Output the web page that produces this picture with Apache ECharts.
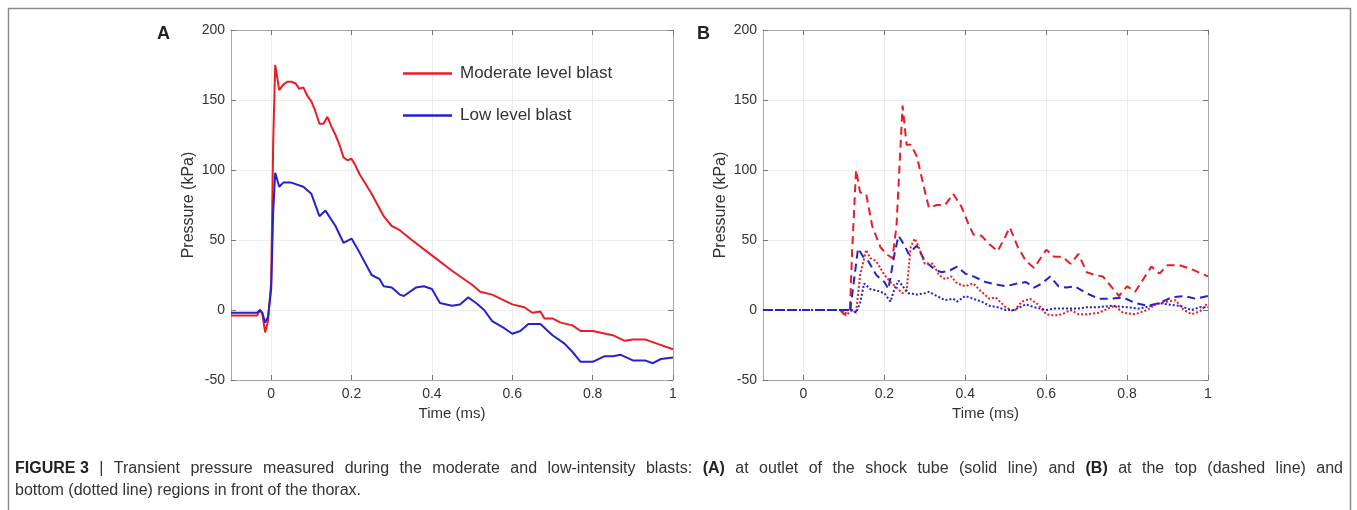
<!DOCTYPE html>
<html><head><meta charset="utf-8">
<script src="https://cdn.jsdelivr.net/npm/echarts@6/dist/echarts.min.js"></script>
<style>html,body{margin:0;padding:0;background:#fff}#c{width:1357px;height:510px}</style>
</head><body><div id="c"></div>
<script>
// ---- tick labels ----
const xTickValues = [0, 0.2, 0.4, 0.6, 0.8, 1];
const yTickValues = [-50, 0, 50, 100, 150, 200];

// ---- Panel A: outlet of shock tube (solid lines) ----
const timeA_mod = [-0.1,-0.06,-0.035,-0.028,-0.022,-0.015,-0.008,0,0.005,0.01,0.02,0.03,0.04,0.05,0.06,0.07,0.08,0.09,0.1,0.11,0.12,0.13,0.14,0.15,0.16,0.17,0.18,0.19,0.2,0.21,0.22,0.25,0.28,0.3,0.32,0.35,0.4,0.45,0.5,0.52,0.55,0.6,0.63,0.65,0.67,0.68,0.7,0.72,0.75,0.77,0.8,0.85,0.88,0.9,0.93,0.96,1.0];
const pressA_mod = [-4,-4,-4,0,-3,-16,-8,20,120,175,157,161,163,163,162,158,159,153,149,142,133,133,138,131,125,118,109,107,108,103,97,83,67,60,57,50,39,28,18,13,11,4,2,-2,-1,-6,-6,-9,-11,-15,-15,-18,-22,-21,-21,-24,-28];

const timeA_low = [-0.1,-0.06,-0.035,-0.028,-0.022,-0.015,-0.008,0,0.005,0.01,0.02,0.03,0.05,0.08,0.1,0.12,0.135,0.16,0.18,0.2,0.22,0.25,0.27,0.28,0.3,0.32,0.33,0.36,0.38,0.4,0.42,0.45,0.47,0.49,0.51,0.53,0.55,0.58,0.6,0.62,0.64,0.67,0.7,0.73,0.75,0.77,0.8,0.83,0.85,0.87,0.9,0.93,0.95,0.97,1.0];
const pressA_low = [-2,-2,-2,0,-2,-9,-5,15,70,98,88,91,91,88,83,67,71,60,48,51,41,25,22,17,16,11,10,16,17,15,5,3,4,9,5,0,-8,-13,-17,-15,-10,-10,-18,-24,-30,-37,-37,-33,-33,-32,-36,-36,-38,-35,-34];

// ---- Panel B: top (dashed) and bottom (dotted) in front of thorax ----
const timeB_modTop = [-0.1,0.09,0.1,0.115,0.12,0.13,0.14,0.155,0.17,0.19,0.205,0.22,0.23,0.245,0.255,0.265,0.28,0.3,0.31,0.33,0.35,0.37,0.39,0.41,0.42,0.44,0.46,0.48,0.5,0.51,0.53,0.55,0.57,0.6,0.62,0.64,0.66,0.68,0.7,0.72,0.74,0.76,0.78,0.8,0.82,0.84,0.86,0.88,0.9,0.93,0.96,1.0];
const pressB_modTop = [0,0,-3,0,40,100,84,83,60,45,40,37,60,146,118,118,110,85,73,75,75,83,74,60,54,53,47,42,53,59,45,35,30,43,38,38,33,40,27,25,24,17,10,17,13,22,31,26,32,32,29,24];

const timeB_lowTop = [-0.1,0.11,0.115,0.12,0.135,0.15,0.16,0.18,0.2,0.21,0.225,0.235,0.25,0.26,0.28,0.3,0.32,0.34,0.36,0.38,0.4,0.42,0.45,0.48,0.5,0.53,0.55,0.57,0.59,0.61,0.63,0.65,0.67,0.7,0.73,0.76,0.79,0.82,0.85,0.88,0.91,0.94,0.97,1.0];
const pressB_lowTop = [0,0,-2,10,44,37,35,25,20,15,40,53,46,40,46,35,30,27,28,31,26,24,20,18,17,19,20,16,19,24,17,16,17,12,8,8,9,5,3,5,9,10,8,10];

const timeB_modBot = [-0.1,0.095,0.105,0.12,0.13,0.14,0.155,0.165,0.18,0.2,0.215,0.23,0.245,0.255,0.265,0.275,0.285,0.3,0.32,0.335,0.35,0.365,0.38,0.4,0.42,0.44,0.46,0.475,0.5,0.52,0.54,0.56,0.58,0.6,0.62,0.64,0.66,0.68,0.7,0.73,0.76,0.77,0.79,0.82,0.85,0.87,0.9,0.92,0.94,0.96,0.98,1.0];
const pressB_modBot = [0,0,-4,0,-2,25,43,37,35,25,20,16,12,14,45,51,45,33,33,25,22,24,19,17,19,13,8,9,2,-1,6,8,4,-3,-4,-3,0,-3,-3,-2,2,3,-2,-3,0,4,6,7,0,-3,-1,5];

const timeB_lowBot = [-0.1,0.12,0.13,0.14,0.15,0.165,0.18,0.2,0.21,0.215,0.225,0.235,0.245,0.26,0.28,0.3,0.31,0.33,0.35,0.37,0.38,0.4,0.42,0.44,0.46,0.48,0.5,0.52,0.55,0.57,0.6,0.62,0.65,0.68,0.7,0.73,0.76,0.8,0.83,0.86,0.88,0.9,0.93,0.96,0.98,1.0];
const pressB_lowBot = [0,0,-2,5,19,15,14,12,8,6,15,21,17,12,11,12,13,10,7,8,6,10,8,6,3,2,0,0,4,2,0,1,1,1,2,2,3,2,1,3,5,4,3,0,2,2];

// ---- caption text ----
const captionLine1 = 'FIGURE 3 | Transient pressure measured during the moderate and low-intensity blasts: (A) at outlet of the shock tube (solid line) and (B) at the top (dashed line) and';
const captionLine2 = 'bottom (dotted line) regions in front of the thorax.';
const captionBold = ['FIGURE\u00a03', '(A)', '(B)'];

const RED = '#ea1c26';
const BLUE = '#2222cf';
const AX = '#a8a8a8';
const FONT = "'Liberation Sans', Arial, sans-serif";
const CAP_SIZE = 16;

function pairs(t, v) { return t.map((x, i) => [x, v[i]]); }

// justified first caption line: measure words, spread the spaces
function justifiedCaption() {
  const words = captionLine1.replace('FIGURE 3', 'FIGURE\u00a03').split(' ');
  const ctx = document.createElement('canvas').getContext('2d');
  let total = 0;
  words.forEach(w => {
    ctx.font = (captionBold.includes(w) ? 'bold ' : '') + CAP_SIZE + 'px ' + FONT;
    total += ctx.measureText(w).width;
  });
  const targetWidth = 1328;
  const gap = (targetWidth - total) / (words.length - 1);
  const parts = words.map(w => captionBold.includes(w) ? '{b|' + w + '}' : '{r|' + w + '}');
  return { text: parts.join('{s| }') + '\n{r|' + captionLine2 + '}', gap };
}
const cap = justifiedCaption();

const grids = [
  { left: 231, top: 30, width: 442, height: 350 },
  { left: 763, top: 30, width: 445, height: 350 }
];

function xAxisFor(gi, pos, labels) {
  return {
    type: 'value', gridIndex: gi, position: pos, min: -0.1, max: 1,
    name: labels ? 'Time (ms)' : '', nameLocation: 'middle', nameGap: 22,
    nameTextStyle: { fontFamily: FONT, fontSize: 15, color: '#333' },
    axisLine: { show: true, onZero: false, lineStyle: { color: AX, width: 1 } },
    axisTick: { show: true, inside: true, length: 5, customValues: xTickValues, lineStyle: { color: '#777' } },
    axisLabel: { show: labels, customValues: xTickValues, margin: 7, fontFamily: FONT, fontSize: 14, color: '#333',
                 formatter: v => String(v) },
    splitLine: { show: labels, lineStyle: { color: '#ececec', width: 1 } }
  };
}
function yAxisFor(gi, pos, labels) {
  return {
    type: 'value', gridIndex: gi, position: pos, min: -50, max: 200, interval: 50,
    name: labels ? 'Pressure (kPa)' : '', nameLocation: 'middle', nameGap: 34,
    nameTextStyle: { fontFamily: FONT, fontSize: 16, color: '#333' },
    axisLine: { show: true, onZero: false, lineStyle: { color: AX, width: 1 } },
    axisTick: { show: true, inside: true, length: 5, lineStyle: { color: '#777' } },
    axisLabel: { show: labels, margin: 6, fontFamily: FONT, fontSize: 14, color: '#333' },
    splitLine: { show: labels, lineStyle: { color: '#ececec', width: 1 } }
  };
}

function line(name, xi, yi, data, color, type, z) {
  return {
    name, type: 'line', xAxisIndex: xi, yAxisIndex: yi, data, symbol: 'none', smooth: false,
    animation: false, z: z || 2,
    lineStyle: { color, width: 2, type: type || 'solid' }, itemStyle: { color }
  };
}

const option = {
  animation: false,
  backgroundColor: '#fff',
  grid: grids,
  xAxis: [xAxisFor(0, 'bottom', true), xAxisFor(0, 'top', false), xAxisFor(1, 'bottom', true), xAxisFor(1, 'top', false)],
  yAxis: [yAxisFor(0, 'left', true), yAxisFor(0, 'right', false), yAxisFor(1, 'left', true), yAxisFor(1, 'right', false)],
  legend: {
    data: ['Moderate level blast', 'Low level blast'],
    orient: 'vertical', left: 398, top: 60, icon: 'rect', itemWidth: 49, itemHeight: 2.5, itemGap: 25,
    textStyle: { fontFamily: FONT, fontSize: 17, color: '#333', padding: [0, 0, 0, 3] },
    selectedMode: false
  },
  series: [
    line('Moderate level blast', 0, 0, pairs(timeA_mod, pressA_mod), RED, 'solid', 3),
    line('Low level blast', 0, 0, pairs(timeA_low, pressA_low), BLUE, 'solid', 4),
    line('Moderate top', 2, 2, pairs(timeB_modTop, pressB_modTop), RED, [8, 5], 3),
    line('Low top', 2, 2, pairs(timeB_lowTop, pressB_lowTop), BLUE, [8, 5], 4),
    line('Moderate bottom', 2, 2, pairs(timeB_modBot, pressB_modBot), RED, [2, 2], 5),
    line('Low bottom', 2, 2, pairs(timeB_lowBot, pressB_lowBot), BLUE, [2, 2], 6)
  ],
  graphic: [
    { type: 'rect', shape: { x: 8.5, y: 8.5, width: 1342, height: 520 }, style: { fill: null, stroke: '#8c8c8c', lineWidth: 1.5 }, silent: true },
    { type: 'text', left: 157, top: 25, style: { text: 'A', font: "bold 18px 'Liberation Sans', Arial", fill: '#222' } },
    { type: 'text', left: 697, top: 25, style: { text: 'B', font: "bold 18px 'Liberation Sans', Arial", fill: '#222' } },
    { type: 'text', left: 15, top: 458, style: {
        text: cap.text,
        fontFamily: FONT, fontSize: CAP_SIZE, fill: '#333', lineHeight: 22,
        rich: {
          r: { fontFamily: FONT, fontSize: CAP_SIZE, fill: '#333', lineHeight: 22 },
          b: { fontWeight: 'bold', fontFamily: FONT, fontSize: CAP_SIZE, fill: '#222', lineHeight: 22 },
          s: { width: cap.gap, fontFamily: FONT, fontSize: CAP_SIZE, lineHeight: 22 }
        }
    } }
  ]
};

const chart = echarts.init(document.getElementById('c'), null, { renderer: 'canvas' });
chart.setOption(option);
</script>
</body></html>
